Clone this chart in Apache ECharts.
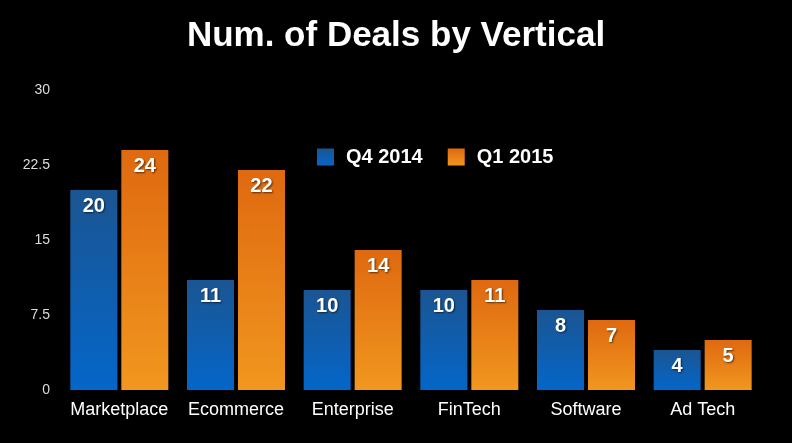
<!DOCTYPE html>
<html><head><meta charset="utf-8">
<script src="https://cdn.jsdelivr.net/npm/echarts@6/dist/echarts.min.js"></script>
<style>html,body{margin:0;padding:0;background:#000;}#c{width:792px;height:443px;}</style>
</head><body><div id="c"></div>
<script>
const categories = ['Marketplace','Ecommerce','Enterprise','FinTech','Software','Ad Tech'];
const q4_2014 = [20, 11, 10, 10, 8, 4];
const q1_2015 = [24, 22, 14, 11, 7, 5];
const yTicks = [0, 7.5, 15, 22.5, 30];

const font = '"Liberation Sans", Arial, Helvetica, sans-serif';
const blueGrad = new echarts.graphic.LinearGradient(0,0,0,1,[{offset:0,color:'#1b5592'},{offset:1,color:'#0466c9'}]);
const orangeGrad = new echarts.graphic.LinearGradient(0,0,0,1,[{offset:0,color:'#df6910'},{offset:1,color:'#f1971f'}]);
const lbl = {show:true, position:'insideTop', distance:6, color:'#fff', fontFamily:font, fontWeight:'bold', fontSize:20,
  textShadowColor:'rgba(0,0,0,0.6)', textShadowBlur:2, textShadowOffsetX:1, textShadowOffsetY:1};

const chart = echarts.init(document.getElementById('c'), null, {renderer:'canvas'});
chart.setOption({
  backgroundColor:'#000',
  animation:false,
  title:{text:'Num. of Deals by Vertical', left:'center', top:14,
    textStyle:{color:'#fff', fontFamily:font, fontWeight:'bold', fontSize:35}},
  legend:{top:142, left:312, itemWidth:17, itemHeight:17, itemGap:25, icon:'rect',
    textStyle:{color:'#fff', fontFamily:font, fontWeight:'bold', fontSize:20, padding:[0,0,0,7]},
    data:[{name:'Q4 2014', icon:'rect', itemStyle:{color:blueGrad}},{name:'Q1 2015', icon:'rect', itemStyle:{color:orangeGrad}}]},
  grid:{left:61, right:31, top:90, bottom:53, containLabel:false},
  xAxis:{type:'category', data:categories, axisLine:{show:false}, axisTick:{show:false},
    axisLabel:{color:'#fff', fontFamily:font, fontSize:18, margin:11, interval:0}},
  yAxis:{type:'value', min:0, max:30, interval:7.5, splitLine:{show:false}, axisLine:{show:false}, axisTick:{show:false},
    axisLabel:{color:'#ddd', fontFamily:font, fontSize:14, margin:11,
      formatter:function(v){ return yTicks.indexOf(v) >= 0 ? String(v) : ''; }}},
  series:[
    {name:'Q4 2014', type:'bar', data:q4_2014, barWidth:47, barGap:'8.5%', itemStyle:{color:blueGrad}, label:lbl},
    {name:'Q1 2015', type:'bar', data:q1_2015, barWidth:47, barGap:'8.5%', itemStyle:{color:orangeGrad}, label:lbl}
  ]
});
</script></body></html>
